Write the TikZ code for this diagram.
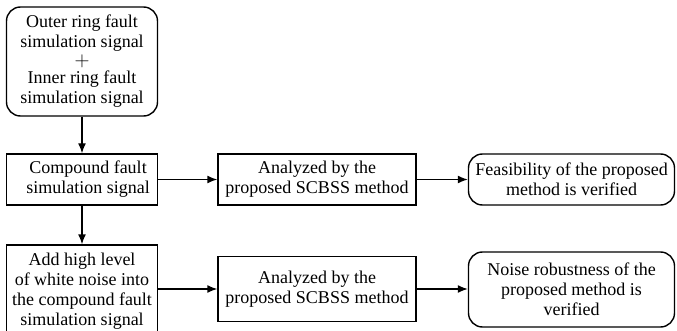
\documentclass[tikz,border=0pt]{standalone}
\usepackage{fontspec}
\setmainfont{Liberation Serif}
\usetikzlibrary{arrows.meta}
\begin{document}
\begin{tikzpicture}[x=1pt,y=-1pt,
    box/.style={draw,line width=1.4pt,align=center,inner sep=0pt,font=\fontsize{18}{20}\selectfont},
    rbox/.style={box,rounded corners=14pt},
    arr/.style={line width=1.4pt,-{Latex[length=10pt,width=8pt]}}]
  \useasboundingbox (0,0) rectangle (677,331);
  % left column
  \node[rbox,minimum width=151pt,minimum height=109pt] (sim) at (82,61.5)
    {Outer ring fault\\simulation signal\\[-1pt]{\fontsize{20}{18}\selectfont$+$}\\[-3pt]Inner ring fault\\simulation signal};
  \node[box,minimum width=151pt,minimum height=51pt] (comp) at (82,179.5)
    {\hspace*{12pt}Compound fault\\\hspace*{12pt}simulation signal};
  \node[box,minimum width=151pt,minimum height=92pt] (noise) at (82,291)
    {Add high level\\of white noise into\\the compound fault\\simulation signal};
  % middle column
  \node[box,minimum width=198pt,minimum height=51pt] (ana1) at (317,179.5)
    {Analyzed by the\\proposed SCBSS method};
  \node[box,minimum width=198pt,minimum height=65pt] (ana2) at (317,289)
    {Analyzed by the\\proposed SCBSS method};
  % right column
  \node[rbox,minimum width=206pt,minimum height=51pt] (feas) at (571.5,179.5)
    {Feasibility of the proposed\\method is verified};
  \node[rbox,minimum width=206pt,minimum height=75pt] (robust) at (571.5,289.5)
    {Noise robustness of the\\proposed method is\\verified};
  % connectors
  \draw[arr] (sim) -- (comp);
  \draw[arr] (comp) -- (noise);
  \draw[arr] (comp) -- (ana1);
  \draw[arr] (ana1) -- (feas);
  \draw[arr] (noise.east |- ana2) -- (ana2);
  \draw[arr] (ana2) -- (ana2 -| robust.west);
\end{tikzpicture}
\end{document}
